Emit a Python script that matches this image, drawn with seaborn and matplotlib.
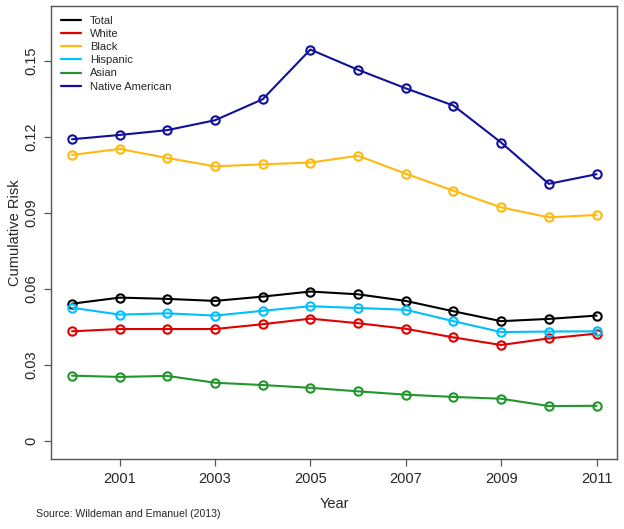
import pandas as pd
import matplotlib
matplotlib.use("Agg")
import matplotlib.pyplot as plt
import seaborn as sns
from matplotlib.lines import Line2D

years = list(range(2000, 2012))
total = [0.0542, 0.0566, 0.0561, 0.0553, 0.0570, 0.0590, 0.0579, 0.0553, 0.0512, 0.0473, 0.0482, 0.0495]
white = [0.0433, 0.0442, 0.0442, 0.0442, 0.0461, 0.0483, 0.0465, 0.0443, 0.0409, 0.0379, 0.0405, 0.0424]
black = [0.1129, 0.1153, 0.1117, 0.1084, 0.1092, 0.1099, 0.1126, 0.1055, 0.0988, 0.0922, 0.0883, 0.0892]
hispanic = [0.0526, 0.0499, 0.0504, 0.0495, 0.0514, 0.0532, 0.0525, 0.0518, 0.0473, 0.0430, 0.0432, 0.0433]
asian = [0.0258, 0.0253, 0.0257, 0.0230, 0.0221, 0.0210, 0.0196, 0.0183, 0.0174, 0.0167, 0.0138, 0.0139]
native = [0.1191, 0.1208, 0.1227, 0.1266, 0.1349, 0.1545, 0.1465, 0.1392, 0.1324, 0.1178, 0.1015, 0.1053]

groups = ["Total", "White", "Black", "Hispanic", "Asian", "Native American"]
colors = ["#000000", "#E00000", "#FFB90F", "#00BFFF", "#22962A", "#10109A"]

df = pd.DataFrame({
    "Year": years * 6,
    "Risk": total + white + black + hispanic + asian + native,
    "Group": [g for g in groups for _ in years],
})

sns.set_style("ticks")
plt.rcParams["font.family"] = ["Liberation Sans", "DejaVu Sans"]

fig = plt.figure(figsize=(6.24, 5.29), dpi=100)
ax = fig.add_axes([0.0817, 0.1323, 0.9071, 0.8564])

pal = dict(zip(groups, colors))
sns.lineplot(data=df, x="Year", y="Risk", hue="Group", hue_order=groups,
             palette=pal, marker="o", markersize=6, markerfacecolor="none",
             markeredgewidth=1.5, linewidth=1.5, legend=False, ax=ax)
# marker edge colours follow the line colours
for line, c in zip(ax.get_lines(), colors):
    line.set_markeredgecolor(c)

ax.set_xlim(1999.56, 2011.43)
ax.set_ylim(-0.0071, 0.1717)
ax.set_xticks([2001, 2003, 2005, 2007, 2009, 2011])
ax.set_xticklabels(["2001", "2003", "2005", "2007", "2009", "2011"], fontsize=10.5)
ax.set_yticks([0, 0.03, 0.06, 0.09, 0.12, 0.15])
ax.set_yticklabels(["0", "0.03", "0.06", "0.09", "0.12", "0.15"], fontsize=10.5,
                   rotation=90, va="center")
ax.tick_params(axis="both", direction="out", length=5, width=0.9, color="#555555",
               left=True, bottom=True, pad=4)
for s in ax.spines.values():
    s.set_visible(True)
    s.set_color("#555555")
    s.set_linewidth(1.0)

ax.set_xlabel("Year", fontsize=10.5, labelpad=8)
ax.set_ylabel("Cumulative Risk", fontsize=10.5)
ax.yaxis.set_label_coords(-0.052, 0.5)

handles = [Line2D([0], [0], color=c, lw=1.6) for c in colors]
ax.legend(handles, groups, loc="upper left", frameon=False, fontsize=8,
          handlelength=1.8, handletextpad=0.8, labelspacing=0.28,
          borderaxespad=0.5, borderpad=0.4)

fig.text(0.058, 0.022, "Source: Wildeman and Emanuel (2013)", fontsize=7.6)

fig.savefig("out.png", dpi=100)
